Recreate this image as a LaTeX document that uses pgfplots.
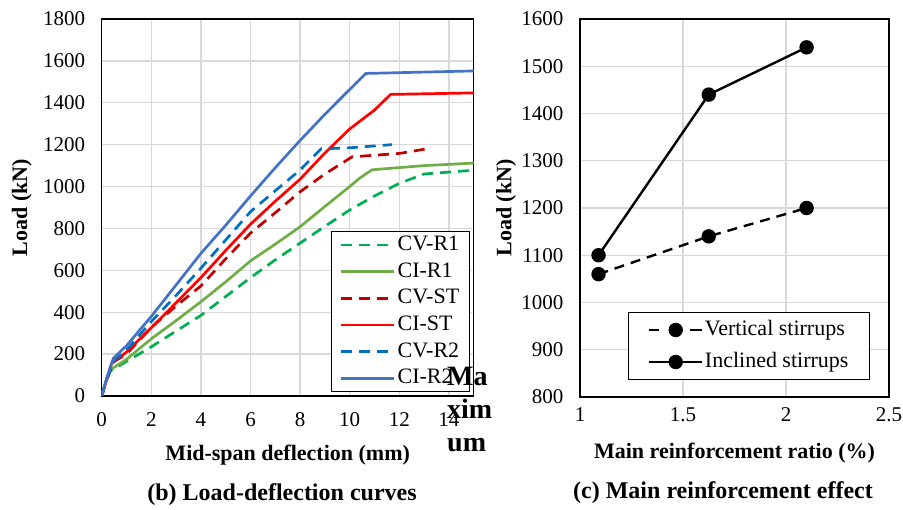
\documentclass[border=0pt]{standalone}
\usepackage{fontspec}
\setmainfont{Liberation Serif}
\usepackage{pgfplots}
\pgfplotsset{compat=1.18}

\definecolor{cvrone}{HTML}{00B050}
\definecolor{cirone}{HTML}{70AD47}
\definecolor{cvst}{HTML}{C00000}
\definecolor{cist}{HTML}{FF0000}
\definecolor{cvrtwo}{HTML}{0070C0}
\definecolor{cirtwo}{HTML}{4472C4}
\definecolor{gridgray}{HTML}{D9D9D9}

\pgfplotsset{
  excel/.style={
    scale only axis,
    anchor=south west,
    grid=major,
    major grid style={gridgray, line width=1.3pt},
    axis line style={black, line width=1.5pt},
    major tick length=0pt,
    /pgf/number format/assume math mode=true,
    /pgf/number format/1000 sep={},
    ticklabel style={font=\fontsize{21}{21}\selectfont},
    label style={font=\bfseries\fontsize{22}{22}\selectfont},
    legend cell align=left,
    legend style={draw=black, line width=1pt, font=\fontsize{22}{22}\selectfont,
      nodes={inner xsep=2pt, inner ysep=2pt, text height=16pt, text depth=5pt}},
  },
}

\begin{document}
\begin{tikzpicture}
\useasboundingbox (0pt,0pt) rectangle (903pt,510pt);

% (b) load-deflection curves
\begin{axis}[excel,
  at={(101.7pt,114pt)}, width=372pt, height=377pt,
  xmin=0, xmax=15, ymin=0, ymax=1800,
  xtick={0,2,...,14}, ytick={0,200,...,1800},
  xticklabel style={yshift=-13pt},
  yticklabel style={xshift=-13pt},
  xlabel={Mid-span deflection (mm)},
  ylabel={Load (kN)},
  xlabel style={at={(axis description cs:0.5,-0.157)}, anchor=center},
  ylabel style={at={(axis description cs:-0.215,0.5)}, anchor=center},
  legend style={at={(axis description cs:1,0)}, anchor=south east, xshift=-4pt, yshift=4pt,
    inner xsep=8pt, inner ysep=0.5pt, row sep=1.7pt},
  legend image code/.code={\draw[#1] (0pt,0pt) -- (53pt,0pt);},
]
\addplot[cvrone, line width=2.7pt, dash pattern=on 11pt off 7pt] coordinates {
  (0,0) (0.15,60) (0.35,120) (1,165) (2,235) (3,310) (4,385) (5,475) (6,565)
  (7,650) (8,730) (9,810) (10,888) (11,955) (12,1015) (13,1060) (15,1078)
};
\addlegendentry{CV-R1}
\addplot[cirone, line width=2.7pt] coordinates {
  (0,0) (0.15,60) (0.35,125) (1,175) (2,273) (3,360) (4,450) (5,545) (6,645)
  (7,725) (8,808) (9,905) (10,1000) (10.4,1040) (10.9,1080) (13,1100) (15,1112)
};
\addlegendentry{CI-R1}
\addplot[cvst, line width=2.7pt, dash pattern=on 11pt off 7pt] coordinates {
  (0,0) (0.2,80) (0.5,165) (1,200) (2,328) (3,430) (4,525) (5,655) (6,778)
  (7,875) (8,975) (9,1060) (10.1,1142) (12,1158) (13.1,1180)
};
\addlegendentry{CV-ST}
\addplot[cist, line width=2.7pt] coordinates {
  (0,0) (0.15,60) (0.4,155) (1,210) (2,326) (3,445) (4,565) (5,695) (6,820)
  (7,930) (8,1035) (9,1160) (10,1275) (11,1365) (11.65,1440) (15,1447)
};
\addlegendentry{CI-ST}
\addplot[cvrtwo, line width=2.7pt, dash pattern=on 11pt off 7pt] coordinates {
  (0,0) (0.2,80) (0.5,170) (1,220) (2,355) (3,480) (4,610) (5,745) (6,880)
  (7,980) (8,1079) (8.85,1180) (10,1185) (11.7,1200)
};
\addlegendentry{CV-R2}
\addplot[cirtwo, line width=2.7pt] coordinates {
  (0,0) (0.2,85) (0.47,180) (1,240) (2,380) (3,530) (4,681) (5,815) (6,955)
  (7,1090) (8,1220) (9,1345) (9.8,1440) (10.65,1540) (15,1552)
};
\addlegendentry{CI-R2}
\end{axis}

% (c) main reinforcement effect
\begin{axis}[excel,
  at={(580pt,113pt)}, width=309pt, height=378pt,
  xmin=1, xmax=2.5, ymin=800, ymax=1600,
  xtick={1,1.5,2,2.5}, ytick={800,900,...,1600},
  xticklabel style={yshift=-7pt, /pgf/number format/fixed},
  yticklabel style={xshift=-13pt},
  xlabel={Main reinforcement ratio (\%)},
  ylabel={Load (kN)},
  xlabel style={at={(axis description cs:0.5,-0.148)}, anchor=center},
  ylabel style={at={(axis description cs:-0.239,0.5)}, anchor=center},
  legend style={at={(axis description cs:1,0)}, anchor=south east, xshift=-19pt, yshift=17pt,
    inner xsep=19pt, inner ysep=5pt, row sep=7pt},
  legend image code/.code={\draw[#1, mark repeat=2, mark phase=2]
    plot coordinates {(0pt,0pt) (27pt,0pt) (53pt,0pt)};},
]
\addplot[black, line width=2.4pt, dash pattern=on 10pt off 7pt,
  mark=*, mark size=6pt, mark options={solid},
  legend image post style={dash pattern=on 10pt off 31pt on 12pt off 0pt}] coordinates {
  (1.09,1060) (1.625,1140) (2.1,1200)
};
\addlegendentry{Vertical stirrups}
\addplot[black, line width=2.4pt, mark=*, mark size=6pt] coordinates {
  (1.09,1100) (1.625,1440) (2.1,1540)
};
\addlegendentry{Inclined stirrups}
\end{axis}

\node[font=\bfseries\fontsize{24}{24}\selectfont] at (282pt,15pt) {(b) Load-deflection curves};
\node[font=\bfseries\fontsize{24}{24}\selectfont] at (723pt,17pt) {(c) Main reinforcement effect};
\node[font=\bfseries\fontsize{28}{33}\selectfont, align=left, anchor=west, inner sep=0pt]
  at (447pt,100pt) {Ma\\xim\\um};
\end{tikzpicture}
\end{document}
